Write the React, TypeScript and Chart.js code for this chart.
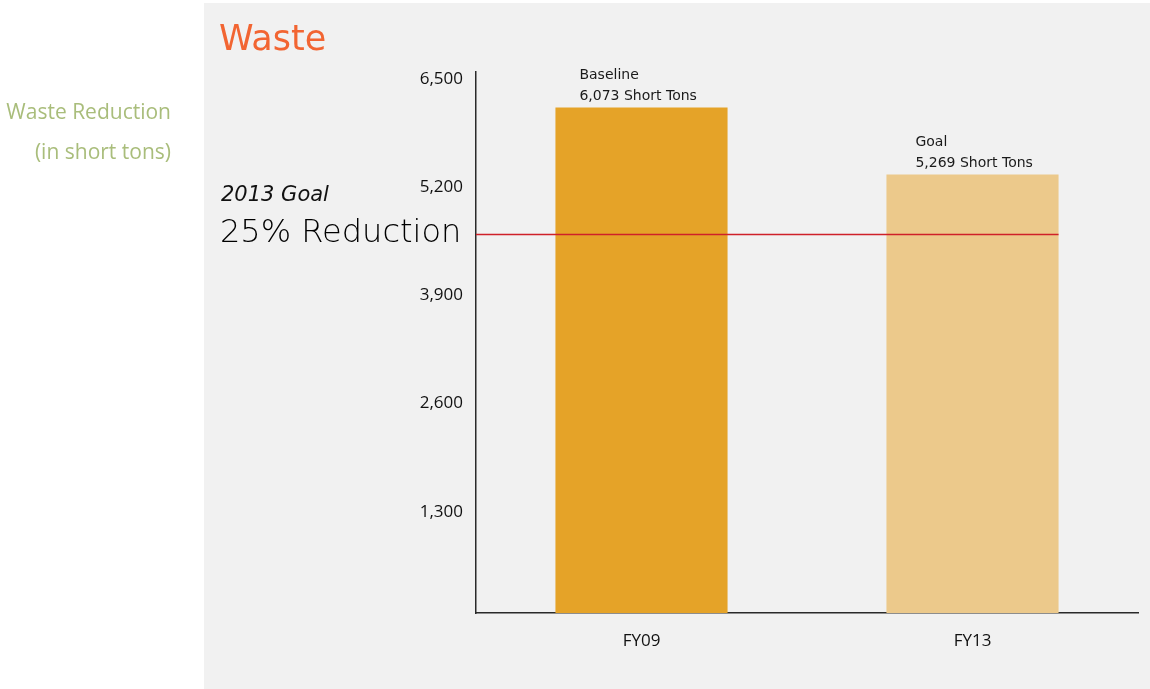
import React, { useEffect, useRef } from "react";
import { Chart, registerables } from "chart.js";

Chart.register(...registerables);

// Fiscal years on the category axis
const categories = ["FY09", "FY13"];
// Waste in short tons: baseline year and goal year
const wasteTons = [6073, 5269];
// Caption lines written above each bar
const barCaptions = ["Baseline", "Goal"];
// Level of the 2013 goal line (25% below baseline)
const goalLine = 4555;
// Y axis tick values
const yTicks = [0, 1300, 2600, 3900, 5200, 6500];

const barColors = ["#e5a328", "#ecc98b"];
const captionInset = [24, 29];

const fmt = (v: number) => v.toLocaleString("en-US");

const decorPlugin = {
  id: "decor",
  beforeDraw(chart: any) {
    const { ctx, width, height } = chart;
    ctx.save();
    ctx.fillStyle = "#ffffff";
    ctx.fillRect(0, 0, width, height);
    ctx.fillStyle = "#f1f1f1";
    ctx.fillRect(204, 3, width - 204, height - 3);

    // Panel title
    ctx.fillStyle = "#f26532";
    ctx.font = '35px "DejaVu Sans"';
    ctx.textAlign = "left";
    ctx.textBaseline = "alphabetic";
    ctx.fillText("Waste", 219, 50);

    // Side caption
    ctx.fillStyle = "#a9bd7b";
    ctx.font = '21px "Open Sans"';
    ctx.textAlign = "right";
    ctx.textBaseline = "middle";
    ctx.fillText("Waste Reduction", 171, 113);
    ctx.fillText("(in short tons)", 171, 153);
    ctx.restore();
  },
  afterDatasetsDraw(chart: any) {
    const { ctx, chartArea } = chart;
    const y = chart.scales.y;
    const meta = chart.getDatasetMeta(0);
    ctx.save();

    // Goal line across the plot
    const ly = Math.round(y.getPixelForValue(goalLine)) + 0.5;
    const last = meta.data[meta.data.length - 1];
    ctx.strokeStyle = "#cf2029";
    ctx.lineWidth = 1.5;
    ctx.beginPath();
    ctx.moveTo(chartArea.left, ly);
    ctx.lineTo(last.x + last.width / 2, ly);
    ctx.stroke();

    // Goal note beside the axis
    ctx.fillStyle = "#111111";
    ctx.textAlign = "left";
    ctx.textBaseline = "middle";
    ctx.font = 'italic 200 21px "DejaVu Sans"';
    ctx.fillText("2013 Goal", 221, ly - 39);
    ctx.fillStyle = "#000000";
    ctx.font = '200 32px "DejaVu Sans"';
    ctx.fillText("25% Reduction", 220, ly - 1);

    // Captions above bars
    ctx.fillStyle = "#1a1a1a";
    ctx.font = '14px "DejaVu Sans"';
    meta.data.forEach((bar: any, i: number) => {
      const x = bar.x - bar.width / 2 + captionInset[i];
      ctx.fillText(barCaptions[i], x, bar.y - 32);
      ctx.fillText(`${fmt(wasteTons[i])} Short Tons`, x, bar.y - 11);
    });
    ctx.restore();
  },
};

export default function App() {
  const ref = useRef<HTMLCanvasElement>(null);

  useEffect(() => {
    if (!ref.current) return;
    const chart = new Chart(ref.current, {
      type: "bar",
      data: {
        labels: categories,
        datasets: [
          {
            data: wasteTons,
            backgroundColor: barColors,
            barPercentage: 0.52,
            categoryPercentage: 1,
          },
        ],
      },
      options: {
        responsive: false,
        animation: false,
        devicePixelRatio: 1,
        layout: { padding: { left: 400, top: 72, right: 12, bottom: 0 } },
        plugins: {
          legend: { display: false },
          tooltip: { enabled: false },
          title: { display: false },
        },
        scales: {
          x: {
            grid: { display: false },
            border: { display: true, color: "#2a2a2a", width: 1.5 },
            ticks: {
              color: "#111111",
              font: { family: "Open Sans", size: 17 },
              padding: 10,
            },
            afterFit(scale: any) {
              scale.height = 76;
            },
          },
          y: {
            min: 0,
            max: 6500,
            grid: { display: false },
            border: { display: true, color: "#2a2a2a", width: 1.5 },
            afterBuildTicks(scale: any) {
              scale.ticks = yTicks.map((v) => ({ value: v }));
            },
            ticks: {
              color: "#111111",
              font: { family: "Open Sans", size: 17 },
              padding: 5,
              labelOffset: 7,
              callback: (v: any) => (Number(v) === 0 ? "" : fmt(Number(v))),
            },
            afterFit(scale: any) {
              scale.width = 76;
            },
          },
        },
      },
      plugins: [decorPlugin],
    });
    return () => chart.destroy();
  }, []);

  return (
    <div style={{ position: "fixed", left: 0, top: 0, width: 1150, height: 689 }}>
      <canvas ref={ref} width={1150} height={689} />
    </div>
  );
}
